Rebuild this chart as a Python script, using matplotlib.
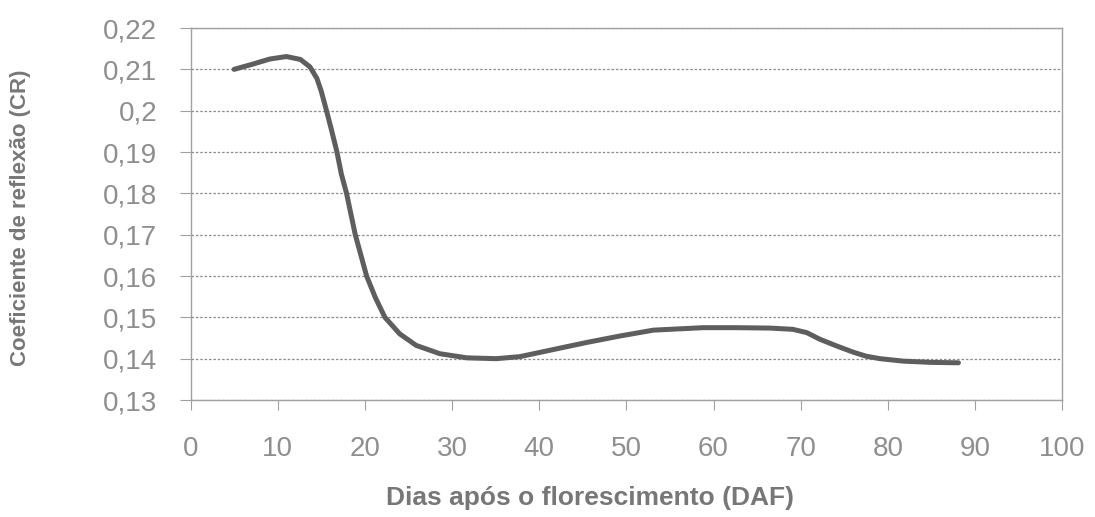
import matplotlib
matplotlib.use("Agg")
import matplotlib.pyplot as plt

# values
dias = [5, 7.2, 9.1, 11.0, 12.6, 13.7, 14.5, 15.0, 15.6, 16.2, 16.8, 17.3,
        17.9, 18.9, 20.2, 21.2, 22.3, 24.0, 25.9, 28.6, 31.7, 35.1, 37.8,
        41.6, 45.4, 49.3, 53.1, 58.8, 62.6, 66.5, 69.1, 70.7, 72.2, 74.1,
        76.0, 77.5, 79.1, 81.8, 85, 88.1]
cr = [0.2100, 0.2113, 0.2125, 0.2131, 0.2124, 0.2106, 0.2078, 0.2047, 0.2000,
      0.1951, 0.1900, 0.1847, 0.1800, 0.1700, 0.1600, 0.1548, 0.1500, 0.1460,
      0.1432, 0.1412, 0.1402, 0.1400, 0.1405, 0.1422, 0.1439, 0.1455, 0.1469,
      0.1475, 0.1475, 0.1474, 0.1471, 0.1463, 0.1447, 0.1431, 0.1416, 0.1406,
      0.1400, 0.1394, 0.1391, 0.1390]

y_ticks = [0.13, 0.14, 0.15, 0.16, 0.17, 0.18, 0.19, 0.20, 0.21, 0.22]
y_labels = ["0,13", "0,14", "0,15", "0,16", "0,17", "0,18", "0,19", "0,2",
            "0,21", "0,22"]
x_ticks = list(range(0, 101, 10))

plt.rcParams['font.family'] = ['Liberation Sans', 'DejaVu Sans']

fig = plt.figure(figsize=(10.95, 5.17), dpi=100)
ax = fig.add_axes([0.174, 0.2263, 0.796, 0.7195])

ax.plot(dias, cr, color='#5e5e5e', linewidth=3.6, solid_capstyle='round',
        solid_joinstyle='round')

ax.set_xlim(0, 100)
ax.set_ylim(0.13, 0.22)
ax.set_yticks(y_ticks)
ax.set_yticklabels(y_labels)
ax.set_xticks(x_ticks)

ax.grid(axis='y', color='#8c8c8c', linestyle=(0, (2, 1.5)), linewidth=0.9)
ax.set_axisbelow(True)

for side in ['left', 'bottom', 'right', 'top']:
    ax.spines[side].set_color('#a0a0a0')
    ax.spines[side].set_linewidth(1.0)

ax.tick_params(axis='y', direction='out', length=8, width=0.8, color='#a0a0a0',
               pad=16, labelsize=20, labelcolor='#8e8e8e')
ax.tick_params(axis='x', direction='out', length=7, width=0.8, color='#a0a0a0',
               pad=19, labelsize=20, labelcolor='#8e8e8e')

ax.set_xlabel('Dias após o florescimento (DAF)', fontsize=19, fontweight='bold',
              color='#777777')
ax.xaxis.set_label_coords(0.458, -0.232)
ax.set_ylabel('Coeficiente de reflexão (CR)', fontsize=16, fontweight='bold',
              color='#777777')
ax.yaxis.set_label_coords(-0.183, 0.49)

fig.savefig('out.png', dpi=100, facecolor='white')
